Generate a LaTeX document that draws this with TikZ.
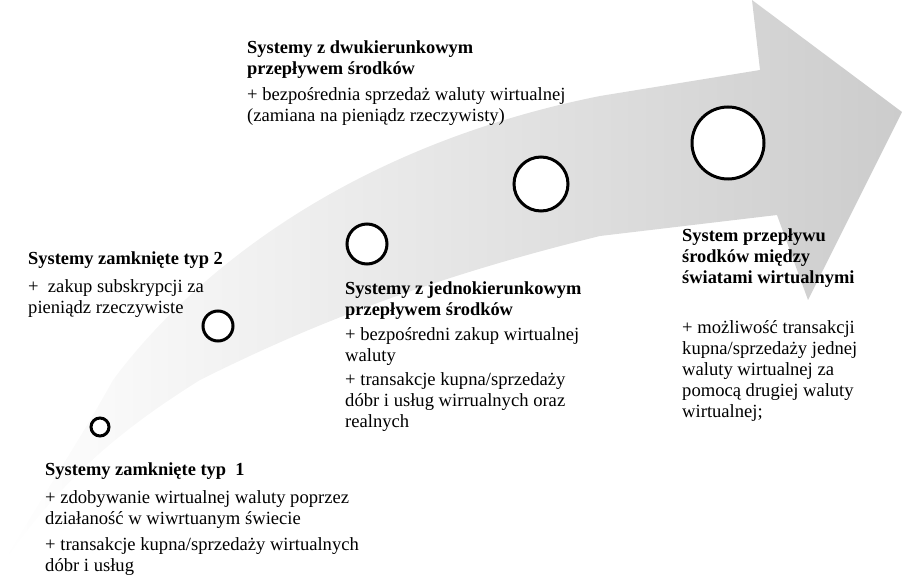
\documentclass[tikz,border=0pt]{standalone}
\usepackage{fontspec}
\setmainfont{Liberation Serif}
\begin{document}
\begin{tikzpicture}[x=1pt,y=-1pt,
  txt/.style={anchor=north west,align=left,inner sep=0pt,font=\fontsize{18.6}{21}\selectfont},
  hd/.style={txt,font=\fontsize{18.4}{21}\selectfont\bfseries},
  ring/.style={circle,draw=black,line width=3pt,fill=white,inner sep=0pt}]
\useasboundingbox (0,0) rectangle (902,577);
\shade[left color=white,right color=gray!40,shading angle=90]
  (0,568) .. controls (40,500) and (80,440) .. (113,380)
  .. controls (180,290) and (330,150) .. (600,96)
  -- (760,70) -- (752,0) -- (902,112) -- (808,300) -- (777,215)
  -- (600,236) .. controls (420,280) and (300,330) .. (200,380)
  .. controls (120,430) and (60,480) .. (0,568) -- cycle;
\node[ring,minimum size=18pt] (c1) at (100,427) {};
\node[ring,minimum size=30pt] (c2) at (218,326) {};
\node[ring,minimum size=40pt] (c3) at (367,244) {};
\node[ring,minimum size=54pt] (c4) at (541,184) {};
\node[ring,minimum size=72pt] (c5) at (728,143) {};
\node[hd] (h1) at (247,41) {Systemy z dwukierunkowym\\przepływem środków};
\node[txt] (t1) at (247,87) {+ bezpośrednia sprzedaż waluty wirtualnej\\(zamiana na pieniądz rzeczywisty)};
\node[hd] (h2) at (28,252) {Systemy zamknięte typ 2};
\node[txt] (t2) at (28,279) {+\ \ zakup subskrypcji za\\pieniądz rzeczywiste};
\node[hd] (h3) at (345,282) {Systemy z jednokierunkowym\\przepływem środków};
\node[txt] (t3) at (345,327) {+ bezpośredni zakup wirtualnej\\waluty};
\node[txt] (t4) at (345,372) {+ transakcje kupna/sprzedaży\\dóbr i usług wirrualnych oraz\\realnych};
\node[hd] (h4) at (682,229) {System przepływu\\środków między\\światami wirtualnymi};
\node[txt] (t5) at (682,320) {+ możliwość transakcji\\kupna/sprzedaży jednej\\waluty wirtualnej za\\pomocą drugiej waluty\\wirtualnej;};
\node[hd] (h5) at (45,463) {Systemy zamknięte typ\ \ 1};
\node[txt] (t6) at (45,490) {+ zdobywanie wirtualnej waluty poprzez\\działaność w wiwrtuanym świecie};
\node[txt] (t7) at (45,537) {+ transakcje kupna/sprzedaży wirtualnych\\dóbr i usług};
\end{tikzpicture}
\end{document}
